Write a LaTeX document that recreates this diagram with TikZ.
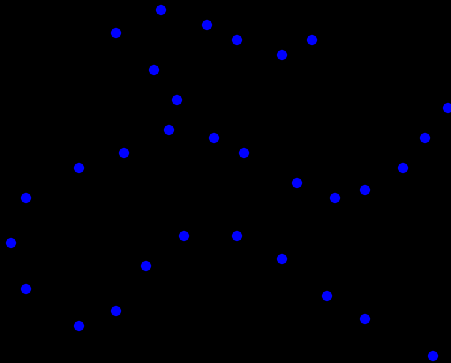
\documentclass[tikz,border=0pt]{standalone}
\begin{document}
\begin{tikzpicture}[x=1pt,y=-1pt,
  dot/.style={circle,fill=blue,draw=none,inner sep=0pt,minimum size=10.5pt}]
\fill[black] (0,0) rectangle (451,363);
\useasboundingbox (0,0) rectangle (451,363);
\foreach \n/\x/\y in {
 a/161/10, b/116/33, c/207/25, d/237/40, e/282/55, f/312/40,
 g/154/70, h/177/100, i/169/130, j/214/138, k/244/153, l/124/153,
 m/79/168, n/448/108, o/425/138, p/403/168, q/365/190, r/335/198,
 s/297/183, t/26/198, u/11/243, v/26/289, w/79/326, x/116/311,
 y/146/266, z/184/236, aa/237/236, ab/282/259, ac/327/296, ad/365/319,
 ae/433/356}
 \node[dot] (\n) at (\x,\y) {};
\end{tikzpicture}
\end{document}
